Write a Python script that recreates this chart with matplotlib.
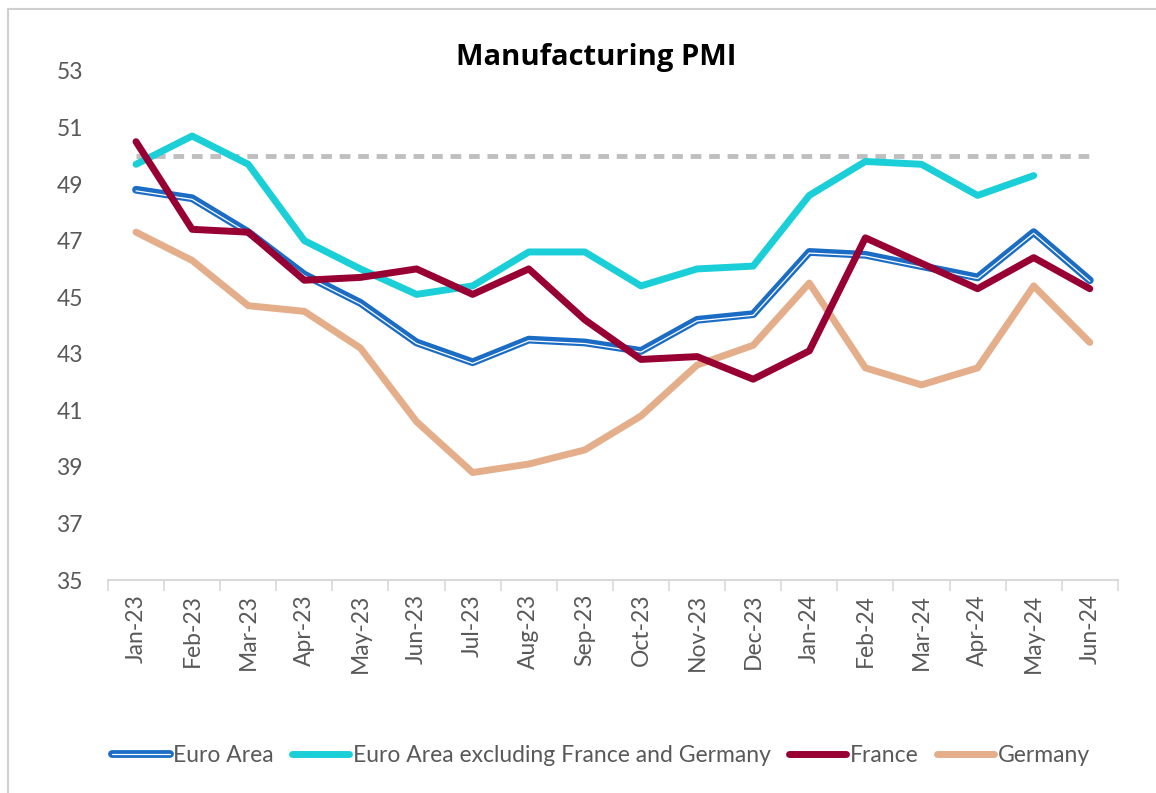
import numpy as np
import matplotlib
matplotlib.use('Agg')
import matplotlib.pyplot as plt
import matplotlib.transforms as mtransforms
from matplotlib.legend_handler import HandlerTuple
from matplotlib.patches import Rectangle

# Data
months = ['Jan-23', 'Feb-23', 'Mar-23', 'Apr-23', 'May-23', 'Jun-23', 'Jul-23', 'Aug-23',
          'Sep-23', 'Oct-23', 'Nov-23', 'Dec-23', 'Jan-24', 'Feb-24', 'Mar-24', 'Apr-24',
          'May-24', 'Jun-24']
euro_area = [48.8, 48.5, 47.3, 45.8, 44.8, 43.4, 42.7, 43.5, 43.4, 43.1, 44.2, 44.4,
             46.6, 46.5, 46.1, 45.7, 47.3, 45.6]
euro_ex = [49.7, 50.7, 49.7, 47.0, 46.0, 45.1, 45.4, 46.6, 46.6, 45.4, 46.0, 46.1,
           48.6, 49.8, 49.7, 48.6, 49.3, np.nan]
france = [50.5, 47.4, 47.3, 45.6, 45.7, 46.0, 45.1, 46.0, 44.2, 42.8, 42.9, 42.1,
          43.1, 47.1, 46.2, 45.3, 46.4, 45.3]
germany = [47.3, 46.3, 44.7, 44.5, 43.2, 40.6, 38.8, 39.1, 39.6, 40.8, 42.6, 43.3,
           45.5, 42.5, 41.9, 42.5, 45.4, 43.4]
threshold = 50

plt.rcParams['font.family'] = ['Lato', 'DejaVu Sans']
grey = '#595959'

fig = plt.figure(figsize=(11.56, 7.93), dpi=100)
ax = fig.add_axes([0.0934, 0.2686, 0.8736, 0.6419])

x = np.arange(len(months))
style = dict(solid_capstyle='round', solid_joinstyle='round')

# 50 threshold line
ax.plot([0, len(months) - 1], [threshold] * 2, color='#BFBFBF', lw=3.5,
        ls=(0, (2.2, 1.6)), zorder=1)

# Euro Area drawn as a compound line: thick blue with a thin white line inside
ea_blue, = ax.plot(x, euro_area, color='#1A6CC4', lw=5.6, zorder=3, **style)
shift = mtransforms.offset_copy(ax.transData, fig=fig, x=0, y=-0.8, units='points')
ea_white, = ax.plot(x, euro_area, color='white', lw=0.9, zorder=3.1, transform=shift, **style)
ex_line, = ax.plot(x, euro_ex, color='#1BCFD8', lw=5, zorder=2, **style)
fr_line, = ax.plot(x, france, color='#980033', lw=5, zorder=4, **style)
de_line, = ax.plot(x, germany, color='#E5AE8A', lw=5, zorder=2, **style)

ax.set_xlim(-0.5, len(months) - 0.5)
ax.set_ylim(35, 53)
ax.set_yticks(np.arange(35, 54, 2))
ax.set_xticks(x)
ax.set_xticklabels(months, rotation=90)
ax.set_xticks(np.arange(-0.5, len(months), 1), minor=True)
ax.tick_params(axis='x', which='major', length=0, pad=10, labelsize=16.5, labelcolor=grey)
ax.tick_params(axis='x', which='minor', length=8, width=1.2, color='#D9D9D9', direction='out')
ax.tick_params(axis='y', length=0, pad=18, labelsize=16.5, labelcolor=grey)
for side in ['top', 'right', 'left']:
    ax.spines[side].set_visible(False)
ax.spines['bottom'].set_color('#D9D9D9')
ax.spines['bottom'].set_linewidth(1.5)

fig.text(0.516, 0.928, 'Manufacturing PMI', ha='center', va='center',
         fontsize=21, fontweight='bold', color='black', family='Open Sans')

fig.legend([(ea_blue, ea_white), ex_line, fr_line, de_line],
           ['Euro Area', 'Euro Area excluding France and Germany', 'France', 'Germany'],
           handler_map={tuple: HandlerTuple(ndivide=1, pad=0)},
           loc='center', bbox_to_anchor=(0.52, 0.047), ncol=4, frameon=False,
           fontsize=16.5, handlelength=2.5, handletextpad=0.15, columnspacing=0.8,
           labelcolor=grey)

# light chart border (left and top visible)
fig.patches.append(Rectangle((8 / 1156, -0.1), 1.2, 0.1 + (793 - 9) / 793,
                             transform=fig.transFigure, fill=False,
                             edgecolor='#D0D0D0', lw=1.5))

fig.savefig('out.png', dpi=100)
